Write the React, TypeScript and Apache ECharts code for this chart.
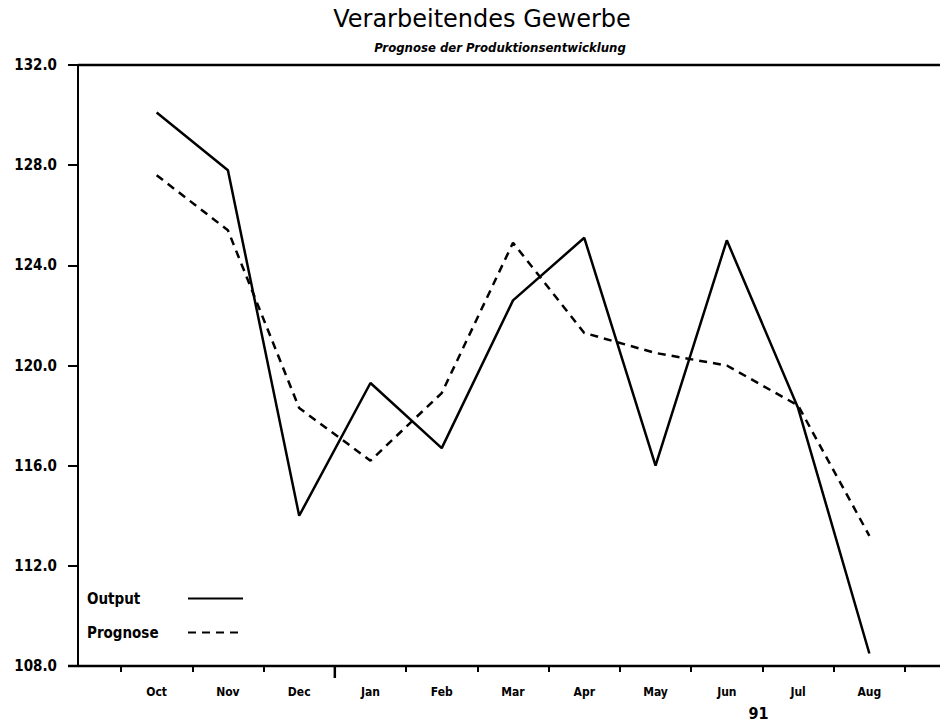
import React, { useEffect, useRef } from "react";
import * as echarts from "echarts";

const categories = ["Oct", "Nov", "Dec", "Jan", "Feb", "Mar", "Apr", "May", "Jun", "Jul", "Aug"];
const outputValues = [130.1, 127.8, 114.0, 119.3, 116.7, 122.6, 125.1, 116.0, 125.0, 118.3, 108.5];
const prognoseValues = [127.6, 125.4, 118.3, 116.2, 118.9, 124.9, 121.3, 120.5, 120.0, 118.4, 113.2];
const yMin = 108;
const yMax = 132;
const yStep = 4;
const titleText = "Verarbeitendes Gewerbe";
const subtitleText = "Prognose der Produktionsentwicklung";
const yearLabel = "91";
const seriesNames = ["Output", "Prognose"];

const W = 940;
const H = 722;
const GRID_LEFT = 121;
const GRID_RIGHT = 35;
const GRID_TOP = 65;
const GRID_BOTTOM = 56;
const AXIS_X = 78;

export default function App() {
  const ref = useRef<HTMLDivElement>(null);
  useEffect(() => {
    if (!ref.current) return;
    const chart = echarts.init(ref.current, null, { renderer: "svg" });
    const bottomY = H - GRID_BOTTOM;
    const option: any = {
      animation: false,
      backgroundColor: "#ffffff",
      grid: { left: GRID_LEFT, right: GRID_RIGHT, top: GRID_TOP, bottom: GRID_BOTTOM, containLabel: false },
      legend: {
        orient: "vertical",
        left: 87,
        top: 591,
        padding: 0,
        align: "right",
        itemWidth: 55,
        itemHeight: 14,
        itemGap: 19,
        itemStyle: { opacity: 0 },
        formatter: (name: string) => "{a|" + name + "}",
        textStyle: {
          rich: {
            a: {
              width: 96,
              align: "left",
              fontSize: 15,
              fontWeight: "bold",
              fontFamily: "DejaVu Sans Condensed, DejaVu Sans",
              color: "#000",
            },
          },
        },
        data: seriesNames,
      },
      xAxis: {
        type: "category",
        data: categories,
        boundaryGap: true,
        axisLine: { show: false },
        axisTick: { show: true, length: 6, lineStyle: { color: "#000", width: 2 } },
        axisLabel: {
          margin: 20,
          color: "#000",
          fontSize: 12,
          fontWeight: "bold",
          fontFamily: "DejaVu Sans Condensed, DejaVu Sans",
        },
        splitLine: { show: false },
      },
      yAxis: {
        type: "value",
        min: yMin,
        max: yMax,
        interval: yStep,
        offset: GRID_LEFT - AXIS_X,
        axisLine: { show: true, lineStyle: { color: "#000", width: 2 } },
        axisTick: { show: true, length: 10, lineStyle: { color: "#000", width: 2 } },
        axisLabel: {
          margin: 21,
          color: "#000",
          fontSize: 15,
          fontWeight: "bold",
          fontFamily: "DejaVu Sans Condensed, DejaVu Sans",
          formatter: (v: number) => v.toFixed(1),
        },
        splitLine: { show: false },
      },
      series: [
        {
          name: seriesNames[0],
          type: "line",
          data: outputValues,
          symbol: "none",
          lineStyle: { color: "#000", width: 2.5, type: "solid" },
          itemStyle: { color: "#000" },
        },
        {
          name: seriesNames[1],
          type: "line",
          data: prognoseValues,
          symbol: "none",
          lineStyle: { color: "#000", width: 2.5, type: [8, 6] },
          itemStyle: { color: "#000" },
        },
      ],
      graphic: [
        {
          type: "text",
          x: 482,
          y: 19,
          style: {
            text: titleText,
            align: "center",
            verticalAlign: "middle",
            fontSize: 24,
            fontFamily: "DejaVu Sans",
            fill: "#000",
          },
        },
        {
          type: "text",
          x: 500,
          y: 47,
          style: {
            text: subtitleText,
            align: "center",
            verticalAlign: "middle",
            fontSize: 13,
            fontStyle: "italic",
            fontWeight: "bold",
            fontFamily: "DejaVu Sans Condensed, DejaVu Sans",
            fill: "#000",
          },
        },
        {
          type: "line",
          shape: { x1: AXIS_X, y1: GRID_TOP, x2: W, y2: GRID_TOP },
          style: { stroke: "#000", lineWidth: 2.5 },
        },
        {
          type: "line",
          shape: { x1: AXIS_X - 10, y1: bottomY, x2: W, y2: bottomY },
          style: { stroke: "#000", lineWidth: 2.5 },
        },
      ],
    };
    chart.setOption(option);
    const xDec = chart.convertToPixel({ xAxisIndex: 0 }, "Dec") as number;
    const xJan = chart.convertToPixel({ xAxisIndex: 0 }, "Jan") as number;
    const xJun = chart.convertToPixel({ xAxisIndex: 0 }, "Jun") as number;
    const xJul = chart.convertToPixel({ xAxisIndex: 0 }, "Jul") as number;
    const g = option.graphic.slice();
    g.push({
      type: "line",
      shape: { x1: (xDec + xJan) / 2, y1: bottomY, x2: (xDec + xJan) / 2, y2: bottomY + 12 },
      style: { stroke: "#000", lineWidth: 2.5 },
    });
    g.push({
      type: "text",
      x: (xJun + xJul) / 2 - 4,
      y: 713,
      style: {
        text: yearLabel,
        align: "center",
        verticalAlign: "middle",
        fontSize: 16,
        fontWeight: "bold",
        fontFamily: "DejaVu Sans Condensed, DejaVu Sans",
        fill: "#000",
      },
    });
    chart.setOption({ graphic: g });
    return () => chart.dispose();
  }, []);
  return <div ref={ref} style={{ position: "fixed", left: 0, top: 0, width: W, height: H }} />;
}
